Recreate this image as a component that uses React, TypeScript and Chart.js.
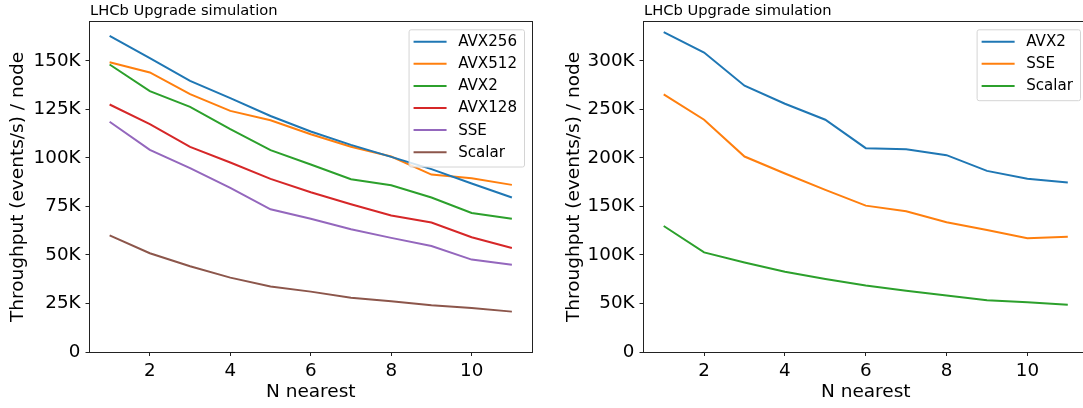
import React, { useEffect, useRef } from "react";
import { Chart, registerables } from "chart.js";

Chart.register(...registerables);

const N_NEAREST = [1, 2, 3, 4, 5, 6, 7, 8, 9, 10, 11];
const X_TICKS = [2, 4, 6, 8, 10];

const LEFT_LABELS = ["AVX256", "AVX512", "AVX2", "AVX128", "SSE", "Scalar"];
const LEFT_AVX256 = [162900, 151400, 139700, 130800, 121600, 113600, 106700, 100500, 94200, 86800, 79600];
const LEFT_AVX512 = [149300, 144000, 132800, 124200, 119400, 112200, 105700, 100700, 91400, 89500, 86100];
const LEFT_AVX2 = [148100, 134400, 126300, 114800, 104000, 96600, 89000, 85900, 79600, 71600, 68600];
const LEFT_AVX128 = [127500, 117400, 105700, 97600, 89200, 82300, 76100, 70300, 66700, 59100, 53600];
const LEFT_SSE = [118600, 104100, 94700, 84500, 73500, 68600, 63200, 58800, 54600, 47600, 45000];
const LEFT_SCALAR = [60100, 50900, 44200, 38300, 33700, 31100, 28000, 26100, 24100, 22700, 20800];
const LEFT_Y_TICKS = [0, 25000, 50000, 75000, 100000, 125000, 150000];
const LEFT_Y_MAX = 170000;

const RIGHT_LABELS = ["AVX2", "SSE", "Scalar"];
const RIGHT_AVX2 = [329500, 308500, 274400, 255800, 239300, 210000, 209000, 202800, 186600, 178400, 174600];
const RIGHT_SSE = [265500, 239300, 201400, 183900, 167000, 150800, 145000, 133600, 125700, 117100, 118800];
const RIGHT_SCALAR = [129800, 102600, 92300, 82600, 75100, 68500, 63000, 58200, 53400, 51300, 48600];
const RIGHT_Y_TICKS = [0, 50000, 100000, 150000, 200000, 250000, 300000];
const RIGHT_Y_MAX = 340000;

const COLORS = ["#1f77b4", "#ff7f0e", "#2ca02c", "#d62728", "#9467bd", "#8c564b"];

const TITLE_TEXT = "LHCb Upgrade simulation";
const X_TITLE = "N nearest";
const Y_TITLE = "Throughput (events/s) / node";

const FONT = '"DejaVu Sans", sans-serif';

const fmtK = (v: number) => (v === 0 ? "0" : `${Math.round(v / 1000)}K`);

const framePlugin = {
  id: "mplFrame",
  afterDraw(chart: any) {
    const { left, right, top, bottom } = chart.chartArea;
    const ctx = chart.ctx;
    ctx.save();
    ctx.strokeStyle = "#222";
    ctx.lineWidth = 1;
    ctx.strokeRect(Math.round(left) - 0.5, Math.round(top) - 0.5, Math.round(right) - Math.round(left) + 1, Math.round(bottom) - Math.round(top) + 1);
    ctx.fillStyle = "#000";
    ctx.font = `14.7px ${FONT}`;
    ctx.textAlign = "left";
    ctx.textBaseline = "alphabetic";
    ctx.fillText(TITLE_TEXT, left + 0.5, 15);
    ctx.restore();
  },
};

const legendPlugin = {
  id: "mplLegend",
  afterDatasetsDraw(chart: any) {
    const ctx = chart.ctx;
    const { right, top } = chart.chartArea;
    const ds = chart.data.datasets;
    ctx.save();
    ctx.font = `15.1px ${FONT}`;
    const maxW = Math.max(...ds.map((d: any) => ctx.measureText(d.label).width));
    const padL = 5, lineLen = 33, gap = 11.6, padR = 7;
    const rowH = 22.1, firstRow = 12.4, lastPad = 14.3;
    const boxW = padL + lineLen + gap + maxW + padR;
    const boxH = firstRow + rowH * (ds.length - 1) + lastPad;
    const bx = right - 8 - boxW;
    const by = top + 7.3;
    ctx.beginPath();
    if ((ctx as any).roundRect) (ctx as any).roundRect(bx + 0.5, by + 0.5, boxW, boxH, 2);
    else ctx.rect(bx + 0.5, by + 0.5, boxW, boxH);
    ctx.fillStyle = "rgba(255,255,255,0.8)";
    ctx.fill();
    ctx.strokeStyle = "#d4d4d4";
    ctx.lineWidth = 1;
    ctx.stroke();
    ds.forEach((d: any, i: number) => {
      const y = by + firstRow + rowH * i;
      ctx.strokeStyle = d.borderColor;
      ctx.lineWidth = 2;
      ctx.beginPath();
      ctx.moveTo(bx + padL, y);
      ctx.lineTo(bx + padL + lineLen, y);
      ctx.stroke();
      ctx.fillStyle = "#000";
      ctx.textAlign = "left";
      ctx.textBaseline = "middle";
      ctx.fillText(d.label, bx + padL + lineLen + gap, y + 0.5);
    });
    ctx.restore();
  },
};

type PanelProps = {
  left: number;
  width: number;
  labels: string[];
  series: number[][];
  yMax: number;
  yTicks: number[];
  yAxisWidth: number;
  padRight: number;
  yTitlePad: number;
};

function Panel(props: PanelProps) {
  const ref = useRef<HTMLCanvasElement | null>(null);
  useEffect(() => {
    if (!ref.current) return;
    const datasets = props.labels.map((label, i) => ({
      label,
      data: N_NEAREST.map((x, j) => ({ x, y: props.series[i][j] })),
      borderColor: COLORS[i],
      backgroundColor: COLORS[i],
      borderWidth: 2,
      pointRadius: 0,
      tension: 0,
      fill: false,
    }));
    const chart = new Chart(ref.current, {
      type: "line",
      data: { datasets },
      options: {
        animation: false,
        responsive: false,
        devicePixelRatio: 1,
        layout: { padding: { left: 0, right: props.padRight, top: 22, bottom: 0 } },
        plugins: { legend: { display: false }, tooltip: { enabled: false }, title: { display: false } },
        scales: {
          x: {
            type: "linear",
            min: 0.5,
            max: 11.5,
            afterBuildTicks: (s: any) => {
              s.ticks = X_TICKS.map((v) => ({ value: v }));
            },
            afterFit: (s: any) => {
              s.height = 56;
            },
            ticks: {
              color: "#000",
              font: { family: FONT, size: 18.3 },
              padding: 4,
              maxRotation: 0,
              callback: (v: any) => String(v),
            },
            grid: { display: true, drawOnChartArea: false, drawTicks: true, tickLength: 4, color: "#222" },
            border: { display: false },
            title: {
              display: true,
              text: X_TITLE,
              color: "#000",
              font: { family: FONT, size: 18.5 },
              padding: { top: 0, bottom: 5 },
            },
          },
          y: {
            type: "linear",
            min: 0,
            max: props.yMax,
            afterBuildTicks: (s: any) => {
              s.ticks = props.yTicks.map((v) => ({ value: v }));
            },
            afterFit: (s: any) => {
              s.width = props.yAxisWidth;
            },
            ticks: {
              color: "#000",
              font: { family: FONT, size: 18.3 },
              padding: 5,
              callback: (v: any) => fmtK(Number(v)),
            },
            grid: { display: true, drawOnChartArea: false, drawTicks: true, tickLength: 4, color: "#222" },
            border: { display: false },
            title: {
              display: true,
              text: Y_TITLE,
              color: "#000",
              font: { family: FONT, size: 18.5 },
              padding: { top: props.yTitlePad, bottom: 0 },
            },
          },
        },
      },
      plugins: [legendPlugin, framePlugin],
    } as any);
    return () => chart.destroy();
  }, []);
  return (
    <canvas
      ref={ref}
      width={props.width}
      height={408}
      style={{ position: "absolute", left: props.left, top: 0, width: props.width, height: 408 }}
    />
  );
}

export default function App() {
  return (
    <div
      style={{
        position: "fixed",
        left: 0,
        top: 0,
        width: 1083,
        height: 408,
        overflow: "hidden",
        background: "#fff",
      }}
    >
      <Panel
        left={0}
        width={540}
        labels={LEFT_LABELS}
        series={[LEFT_AVX256, LEFT_AVX512, LEFT_AVX2, LEFT_AVX128, LEFT_SSE, LEFT_SCALAR]}
        yMax={LEFT_Y_MAX}
        yTicks={LEFT_Y_TICKS}
        yAxisWidth={89.5}
        padRight={8}
        yTitlePad={7.4}
      />
      <Panel
        left={540}
        width={560}
        labels={RIGHT_LABELS}
        series={[RIGHT_AVX2, RIGHT_SSE, RIGHT_SCALAR]}
        yMax={RIGHT_Y_MAX}
        yTicks={RIGHT_Y_TICKS}
        yAxisWidth={103.5}
        padRight={12}
        yTitlePad={23.1}
      />
    </div>
  );
}
